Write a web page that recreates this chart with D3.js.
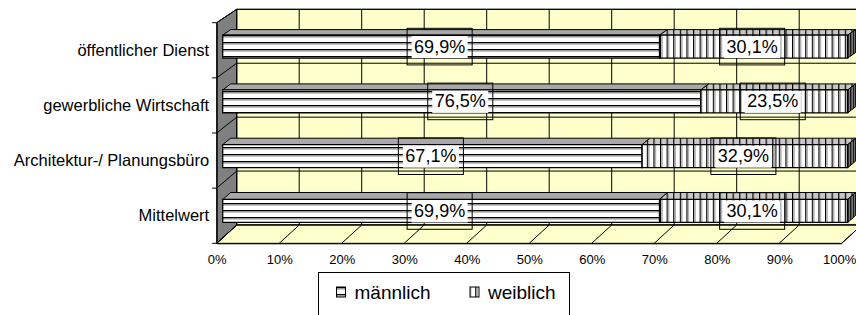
<!DOCTYPE html>
<html><head><meta charset="utf-8">
<script src="https://cdn.jsdelivr.net/npm/d3@7"></script>
<style>html,body{margin:0;padding:0;background:#fff;}svg{display:block;font-family:"Liberation Sans",Arial,sans-serif;}</style>
</head><body>
<svg id="c" width="856" height="315"></svg>
<script>
const categories = ["öffentlicher Dienst", "gewerbliche Wirtschaft", "Architektur-/ Planungsbüro", "Mittelwert"];
const seriesNames = ["männlich", "weiblich"];
const male = [69.9, 76.5, 67.1, 69.9];
const female = [30.1, 23.5, 32.9, 30.1];
const xTicks = [0, 10, 20, 30, 40, 50, 60, 70, 80, 90, 100];

const svg = d3.select("#c");
const defs = svg.append("defs");

const xFront = d3.scaleLinear().domain([0, 100]).range([216.7, 841.7]);
const DX = 20;
const yFront = d3.scaleBand().domain(categories).range([22.7, 243.3]);
const yBack = d3.scaleBand().domain(categories).range([9.3, 225]);
function P(v, cat, f, d) {
  const yf = yFront(cat) + f * yFront.bandwidth();
  const yb = yBack(cat) + f * yBack.bandwidth();
  return [xFront(v) + d * DX, yf + (yb - yf) * d];
}
function yEdge(i, d) {
  const yf = yFront.range()[0] + i * yFront.step();
  const yb = yBack.range()[0] + i * yBack.step();
  return yf + (yb - yf) * d;
}

function hPattern(id, bg, period) {
  const p = defs.append("pattern").attr("id", id).attr("patternUnits", "userSpaceOnUse")
    .attr("width", 8).attr("height", period);
  p.append("rect").attr("width", 8).attr("height", period).attr("fill", bg);
  p.append("rect").attr("y", 0).attr("width", 8).attr("height", 1.3).attr("fill", "#000");
  p.append("rect").attr("y", 1.3).attr("width", 8).attr("height", 1.2).attr("fill", "#8a8a8a");
}
function vPattern(id, bg, period, light) {
  const p = defs.append("pattern").attr("id", id).attr("patternUnits", "userSpaceOnUse")
    .attr("width", period).attr("height", 8);
  p.append("rect").attr("width", period).attr("height", 8).attr("fill", bg);
  p.append("rect").attr("x", 0).attr("width", 1.2).attr("height", 8).attr("fill", "#000");
  if (light) p.append("rect").attr("x", 1.2).attr("width", 1.6).attr("height", 8).attr("fill", light);
}
hPattern("mFront", "#fff", 7);
vPattern("fFront", "#fff", 6.6, "#b0b0b0");
vPattern("fTop", "#c8c8c8", 6.6, null);
vPattern("fSide", "#8c8c8c", 2.6, null);
const mTopFill = "#a8a8a8";

const wallFill = "#ffffcc";
const back = svg.append("g");
back.append("polygon")
  .attr("points", [[xFront(0) + DX, yEdge(0, 1)], [xFront(100) + DX, yEdge(0, 1)], [xFront(100) + DX, yEdge(4, 1)], [xFront(0) + DX, yEdge(4, 1)]].join(" "))
  .attr("fill", wallFill).attr("stroke", "#000").attr("stroke-width", 1);
back.append("polygon")
  .attr("points", [[xFront(0), yEdge(4, 0)], [xFront(100), yEdge(4, 0)], [xFront(100) + DX, yEdge(4, 1)], [xFront(0) + DX, yEdge(4, 1)]].join(" "))
  .attr("fill", wallFill).attr("stroke", "#000").attr("stroke-width", 1);
back.append("polygon")
  .attr("points", [[xFront(0), yEdge(0, 0)], [xFront(0) + DX, yEdge(0, 1)], [xFront(0) + DX, yEdge(4, 1)], [xFront(0), yEdge(4, 0)]].join(" "))
  .attr("fill", "#808080").attr("stroke", "#000").attr("stroke-width", 1);

xTicks.forEach(t => {
  const xb = xFront(t) + DX;
  back.append("line").attr("x1", xb).attr("x2", xb).attr("y1", yEdge(0, 1)).attr("y2", yEdge(4, 1))
    .attr("stroke", "#000").attr("stroke-width", 1);
  back.append("line").attr("x1", xFront(t)).attr("y1", yEdge(4, 0)).attr("x2", xb).attr("y2", yEdge(4, 1))
    .attr("stroke", "#000").attr("stroke-width", 1);
});
d3.range(0, categories.length + 1).forEach(i => {
  back.append("line").attr("x1", xFront(0) + DX).attr("x2", xFront(100) + DX)
    .attr("y1", yEdge(i, 1)).attr("y2", yEdge(i, 1)).attr("stroke", "#000").attr("stroke-width", 1);
  back.append("line").attr("x1", xFront(0)).attr("y1", yEdge(i, 0)).attr("x2", xFront(0) + DX).attr("y2", yEdge(i, 1))
    .attr("stroke", "#000").attr("stroke-width", 1);
  back.append("line").attr("x1", xFront(0) - 4.5).attr("x2", xFront(0)).attr("y1", yEdge(i, 0)).attr("y2", yEdge(i, 0))
    .attr("stroke", "#000").attr("stroke-width", 1);
});

const xAxis = d3.axisBottom(xFront).tickValues(xTicks).tickFormat(d => d + "%").tickSize(0).tickPadding(11);
const gx = svg.append("g").attr("transform", `translate(0,${yEdge(4, 0)})`).call(xAxis);
gx.select(".domain").attr("stroke", "#000");
gx.selectAll("text").attr("font-size", 13).attr("fill", "#000").attr("font-family", "Liberation Sans, Arial, sans-serif")
  .attr("dx", d => d === 100 ? -2.5 : 0);

const yAxis = d3.axisLeft(yFront).tickSize(0).tickPadding(7.5);
const gy = svg.append("g").attr("transform", `translate(${xFront(0)},0)`).call(yAxis);
gy.select(".domain").attr("stroke", "#000");
gy.selectAll("text").attr("font-size", 16.5).attr("fill", "#000").attr("font-family", "Liberation Sans, Arial, sans-serif");

const fTop = 0.3, fBot = 0.72, dF = 0.3, dB = 0.7;
const bars = svg.append("g");
const poly = pts => pts.map(p => p.join(",")).join(" ");
const segments = [];
categories.forEach((cat, i) => {
  const segs = [
    { s: 0, v0: 0, v1: male[i], val: male[i], front: "url(#mFront)", top: mTopFill },
    { s: 1, v0: male[i], v1: male[i] + female[i], val: female[i], front: "url(#fFront)", top: "url(#fTop)" }
  ];
  const g = bars.append("g");
  segs.forEach(sg => {
    g.append("polygon").attr("points", poly([P(sg.v0, cat, fTop, dF), P(sg.v1, cat, fTop, dF), P(sg.v1, cat, fTop, dB), P(sg.v0, cat, fTop, dB)]))
      .attr("fill", sg.top).attr("stroke", "#000").attr("stroke-width", 1);
  });
  segs.forEach(sg => {
    g.append("polygon").attr("points", poly([P(sg.v0, cat, fTop, dF), P(sg.v1, cat, fTop, dF), P(sg.v1, cat, fBot, dF), P(sg.v0, cat, fBot, dF)]))
      .attr("fill", sg.front).attr("stroke", "#000").attr("stroke-width", 1.3);
  });
  const last = segs[1];
  g.append("polygon").attr("points", poly([P(last.v1, cat, fTop, dF), P(last.v1, cat, fTop, dB), P(last.v1, cat, fBot, dB), P(last.v1, cat, fBot, dF)]))
    .attr("fill", "url(#fSide)").attr("stroke", "#000").attr("stroke-width", 1);
  segs.forEach(sg => segments.push({ cat, ...sg }));
});

const fmt = v => d3.format(".1f")(v).replace(".", ",") + "%";
const labels = svg.append("g");
segments.forEach(sg => {
  const a = P(sg.v0, sg.cat, fTop, dF), b = P(sg.v1, sg.cat, fBot, dF);
  const cx = (a[0] + b[0]) / 2 - 1.5, cy = (a[1] + b[1]) / 2;
  const lg = labels.append("g");
  const t = lg.append("text").attr("x", cx).attr("y", cy).attr("text-anchor", "middle")
    .attr("dominant-baseline", "central").attr("font-size", 18).attr("fill", "#000").text(fmt(sg.val));
  const w = t.node().getComputedTextLength();
  lg.insert("rect", "text").attr("x", cx - w / 2 - 7).attr("y", cy - 18.3).attr("width", w + 14).attr("height", 36.6)
    .attr("fill", "none").attr("stroke", "#000").attr("stroke-width", 1);
  lg.insert("rect", "text").attr("x", cx - w / 2 - 2.5).attr("y", cy - 10.5).attr("width", w + 5).attr("height", 22)
    .attr("fill", "#fff");
});

const leg = svg.append("g");
leg.append("rect").attr("x", 318.5).attr("y", 272.5).attr("width", 251).attr("height", 60)
  .attr("fill", "#fff").attr("stroke", "#000").attr("stroke-width", 1);
const legItems = [
  { name: seriesNames[0], x: 336.5, fill: "url(#mFront)" },
  { name: seriesNames[1], x: 470, fill: "url(#fFront)" }
];
legItems.forEach(it => {
  leg.append("rect").attr("x", it.x).attr("y", 287).attr("width", 9).attr("height", 10)
    .attr("fill", it.fill).attr("stroke", "#000").attr("stroke-width", 1);
  leg.append("text").attr("x", it.x + 18).attr("y", 298.5).attr("font-size", 19).attr("fill", "#000").text(it.name);
});
</script>
</body></html>
